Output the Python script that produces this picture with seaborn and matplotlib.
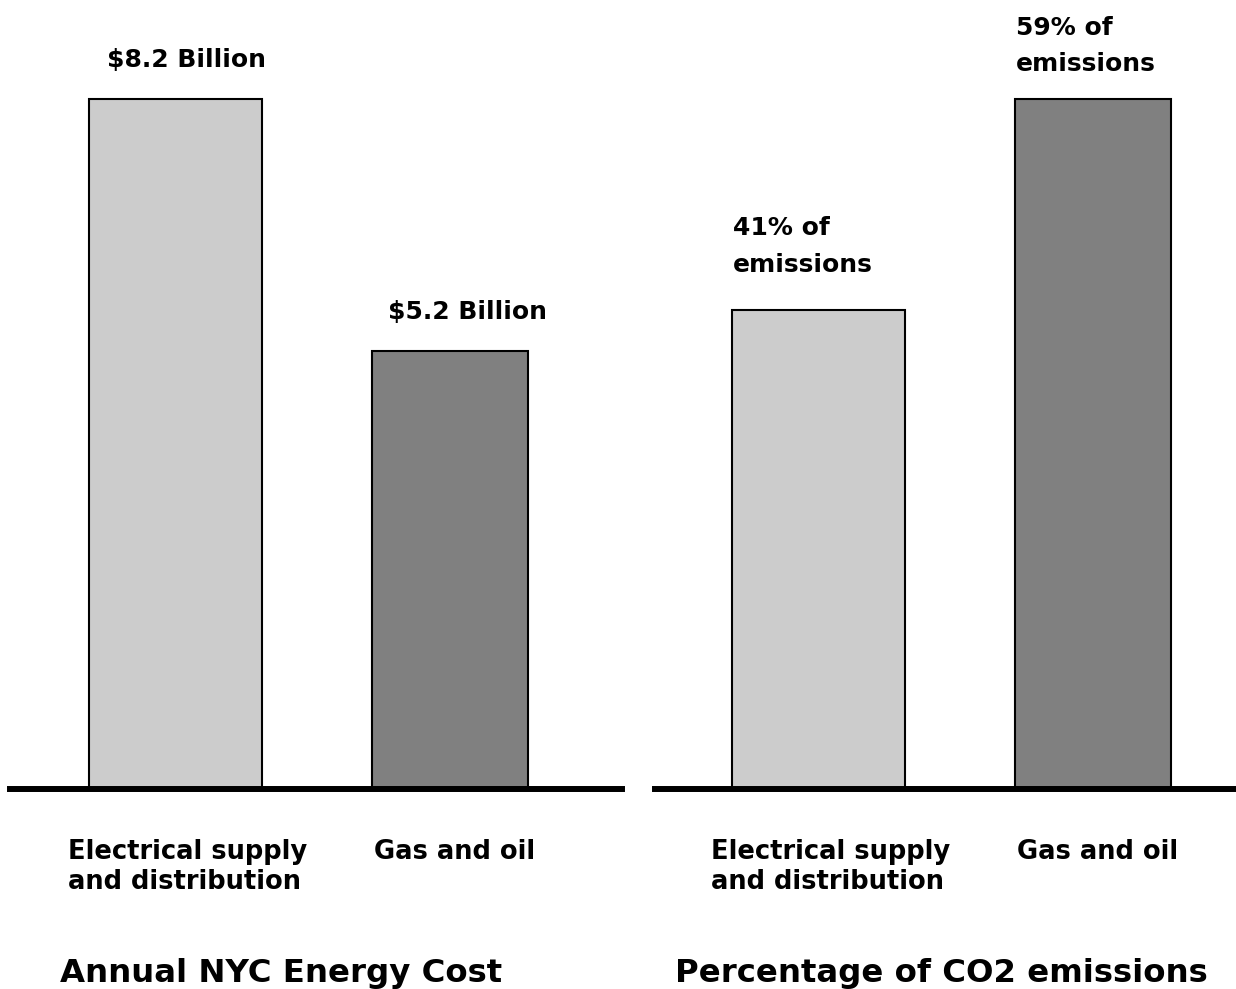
import matplotlib
matplotlib.use("Agg")
import matplotlib.pyplot as plt
import matplotlib.transforms as mtransforms
import seaborn as sns
import pandas as pd

# Data
categories = ["Electrical supply\nand distribution", "Gas and oil"]
cost_billions = [8.2, 5.2]
co2_share_pct = [41, 59]
cost_labels = ["$8.2 Billion", "$5.2 Billion"]
co2_labels = ["41% of\nemissions", "59% of\nemissions"]
panel_titles = ["Annual NYC Energy Cost", "Percentage of CO2 emissions"]
bar_colors = ["#cccccc", "#808080"]

sns.set_theme(style="white")
plt.rcParams["font.family"] = ["DejaVu Sans"]
plt.rcParams["font.weight"] = "bold"
plt.rcParams["text.color"] = "black"
plt.rcParams["xtick.color"] = "black"
plt.rcParams["xtick.labelcolor"] = "black"

W, H = 1236, 989
fig = plt.figure(figsize=(W / 100, H / 100), dpi=100)

def px_axes(x0, x1, ybase):
    return fig.add_axes([x0 / W, (H - ybase) / H, (x1 - x0) / W, ybase / H])

ax_cost = px_axes(10, 622, 789)
ax_co2 = px_axes(655, 1236, 789)

panels = [
    (ax_cost, cost_billions, cost_labels, (-0.603, 1.627), [18, 16], [32, 32]),
    (ax_co2, co2_share_pct, co2_labels, (-0.596, 1.521), [1, 1], [38, 28]),
]
bar_widths = [0.63, 0.568]
tick_shift_px = [12, 5]

for ax, values, labels, xlim, dx_px, dy_px in panels:
    df = pd.DataFrame({"category": categories, "value": values})
    sns.barplot(data=df, x="category", y="value", hue="category",
                palette=bar_colors, legend=False, ax=ax,
                edgecolor="black", linewidth=1.5, saturation=1)
    # per-bar widths, kept centred on their category
    for patch, w in zip(ax.patches, bar_widths):
        c = patch.get_x() + patch.get_width() / 2
        patch.set_width(w)
        patch.set_x(c - w / 2)
    top = max(values)
    ax.set_ylim(0, top * 789 / 690)
    ax.set_xlim(*xlim)
    for patch, text, dx, dy in zip(ax.patches, labels, dx_px, dy_px):
        ax.annotate(text, xy=(patch.get_x(), patch.get_height()),
                    xytext=(dx * 0.72, dy * 0.72), textcoords="offset points",
                    ha="left", va="baseline", fontsize=18, fontweight="bold",
                    linespacing=1.65, parse_math=False, color="black")
    ax.set_xlabel("")
    ax.set_ylabel("")
    ax.set_yticks([])
    ax.tick_params(axis="x", length=0, pad=36, labelsize=18.5)
    for lab, shift in zip(ax.get_xticklabels(), tick_shift_px):
        lab.set_fontweight("bold")
        lab.set_color("black")
        lab.set_multialignment("left")
        lab.set_linespacing(1.22)
        lab.set_transform(lab.get_transform() + mtransforms.ScaledTranslation(
            shift / 100, 0, fig.dpi_scale_trans))
    for side in ["top", "left", "right"]:
        ax.spines[side].set_visible(False)
    ax.spines["bottom"].set_linewidth(4.3)
    ax.spines["bottom"].set_color("black")
    ax.patch.set_alpha(0)

fig.text(281.5 / W, (H - 982) / H, panel_titles[0], ha="center", va="baseline",
         fontsize=23.3, fontweight="bold", color="black")
fig.text(941.5 / W, (H - 982) / H, panel_titles[1], ha="center", va="baseline",
         fontsize=23.3, fontweight="bold", color="black")

fig.savefig("out.png", dpi=100, facecolor="white")
